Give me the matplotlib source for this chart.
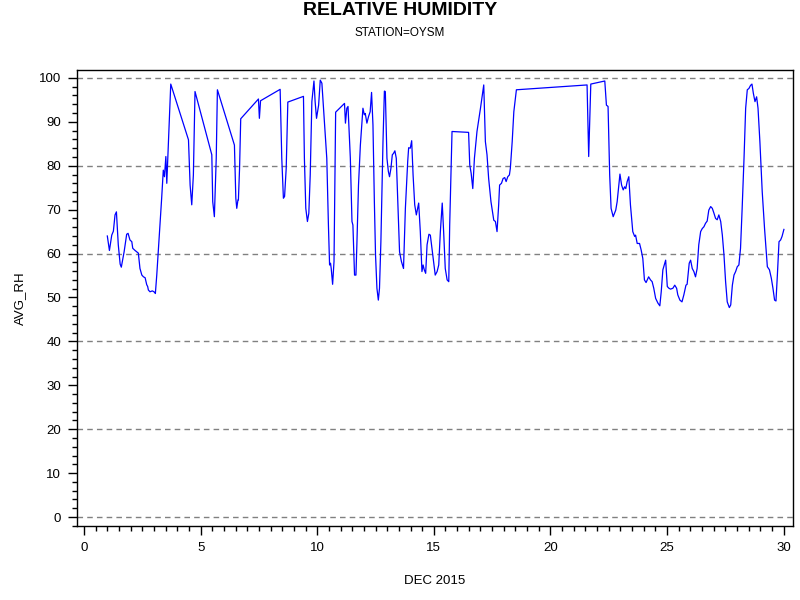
import matplotlib
matplotlib.use("Agg")
import matplotlib.pyplot as plt
from matplotlib.ticker import MultipleLocator

plt.rcParams['font.family'] = ['Liberation Sans', 'DejaVu Sans']

# Day of month (fractional) and average relative humidity.
days = [1.00, 1.09, 1.19, 1.26, 1.33, 1.39, 1.47, 1.55, 1.60, 1.72, 1.83, 1.89,
        1.97, 2.05, 2.09, 2.19, 2.33, 2.40, 2.48, 2.55, 2.62, 2.69, 2.73, 2.76,
        2.83, 2.93, 3.00, 3.06, 3.12, 3.23, 3.33, 3.40, 3.45, 3.51, 3.55, 3.62,
        3.72, 4.48, 4.55, 4.62, 4.69, 4.76, 5.48, 5.52, 5.59, 5.67, 5.72, 6.45,
        6.51, 6.55, 6.60, 6.62, 6.67, 6.72, 7.48, 7.52, 7.57, 8.41, 8.48, 8.55,
        8.60, 8.67, 8.74, 9.41, 9.45, 9.51, 9.58, 9.64, 9.70, 9.77, 9.86, 9.91,
        9.97, 10.06, 10.13, 10.20, 10.27, 10.41, 10.48, 10.53, 10.57, 10.60, 10.66, 10.72,
        10.79, 11.17, 11.21, 11.27, 11.32, 11.42, 11.49, 11.53, 11.60, 11.66, 11.70, 11.77,
        11.85, 11.96, 12.02, 12.06, 12.13, 12.20, 12.27, 12.33, 12.39, 12.45, 12.50, 12.56,
        12.62, 12.67, 12.73, 12.82, 12.88, 12.92, 12.99, 13.05, 13.10, 13.16, 13.22, 13.27,
        13.33, 13.39, 13.45, 13.53, 13.61, 13.70, 13.78, 13.88, 13.92, 13.99, 14.05, 14.11,
        14.18, 14.25, 14.35, 14.42, 14.49, 14.54, 14.59, 14.65, 14.71, 14.79, 14.85, 14.92,
        14.99, 15.06, 15.14, 15.21, 15.28, 15.36, 15.42, 15.49, 15.57, 15.64, 15.68, 15.78,
        16.49, 16.54, 16.60, 16.67, 16.74, 16.85, 17.00, 17.14, 17.21, 17.28, 17.35, 17.45,
        17.57, 17.64, 17.71, 17.78, 17.82, 17.90, 17.97, 18.04, 18.10, 18.17, 18.24, 18.28,
        18.36, 18.43, 18.54, 21.57, 21.64, 21.73, 22.33, 22.40, 22.47, 22.54, 22.60, 22.69,
        22.75, 22.80, 22.86, 22.98, 23.05, 23.12, 23.18, 23.23, 23.29, 23.36, 23.43, 23.53,
        23.61, 23.65, 23.72, 23.82, 23.89, 23.96, 24.03, 24.10, 24.21, 24.29, 24.36, 24.43,
        24.51, 24.61, 24.69, 24.75, 24.82, 24.94, 25.01, 25.08, 25.15, 25.25, 25.33, 25.41,
        25.46, 25.55, 25.64, 25.72, 25.81, 25.86, 25.95, 26.01, 26.08, 26.15, 26.22, 26.29,
        26.36, 26.44, 26.51, 26.58, 26.65, 26.72, 26.79, 26.87, 26.94, 27.01, 27.08, 27.15,
        27.22, 27.30, 27.37, 27.44, 27.51, 27.58, 27.67, 27.73, 27.80, 27.87, 27.94, 28.01,
        28.08, 28.15, 28.22, 28.30, 28.37, 28.44, 28.51, 28.58, 28.64, 28.70, 28.77, 28.84,
        28.90, 28.98, 29.08, 29.18, 29.30, 29.39, 29.47, 29.54, 29.61, 29.67, 29.73, 29.80,
        29.87, 29.93, 30.01]

avg_rh = [64.0, 60.7, 64.2, 65.1, 68.8, 69.5, 62.0, 57.6, 56.9, 60.4, 64.4, 64.6,
          63.1, 62.7, 61.2, 60.7, 60.1, 56.6, 55.1, 54.7, 54.5, 52.9, 52.5, 51.7,
          51.3, 51.5, 51.3, 50.9, 55.1, 64.2, 72.6, 79.0, 77.5, 82.1, 76.0, 85.5,
          98.6, 85.9, 75.6, 71.1, 77.9, 96.9, 82.5, 71.8, 68.4, 81.7, 97.3, 84.7,
          72.6, 70.3, 72.2, 72.2, 79.4, 90.7, 95.2, 90.8, 94.8, 97.4, 81.7, 72.6,
          73.0, 79.4, 94.5, 95.8, 81.7, 70.3, 67.3, 69.2, 77.9, 94.6, 99.3, 94.6,
          90.8, 93.8, 99.5, 98.8, 93.1, 81.7, 66.5, 57.4, 57.8, 56.6, 53.0, 58.2,
          92.2, 94.2, 89.7, 93.1, 93.5, 81.7, 67.3, 66.5, 55.1, 55.1, 62.0, 75.6,
          84.7, 93.1, 91.6, 91.9, 89.7, 91.2, 92.3, 96.7, 89.3, 71.8, 59.7, 52.1,
          49.4, 52.1, 62.7, 85.5, 97.0, 96.9, 81.7, 78.7, 77.5, 79.4, 82.5, 82.8,
          83.4, 81.7, 72.6, 60.4, 58.2, 56.6, 70.3, 81.0, 84.1, 84.0, 85.7, 77.9,
          71.1, 68.8, 71.5, 65.0, 55.9, 57.4, 56.3, 55.5, 62.0, 64.4, 64.2, 61.2,
          58.2, 55.1, 55.9, 57.4, 65.0, 71.5, 65.0, 56.6, 54.0, 53.6, 66.5, 87.8,
          87.6, 80.2, 78.3, 74.8, 81.7, 87.8, 93.1, 98.4, 85.5, 82.5, 77.1, 71.8,
          67.6, 67.3, 65.0, 71.1, 75.6, 76.0, 77.1, 77.3, 76.4, 77.5, 77.9, 79.4,
          85.5, 92.3, 97.3, 98.4, 82.1, 98.6, 99.3, 93.8, 93.5, 77.9, 70.3, 68.4,
          69.2, 69.9, 71.8, 78.1, 75.6, 74.5, 75.2, 74.8, 76.4, 77.5, 71.1, 65.0,
          63.9, 64.2, 62.3, 62.3, 60.8, 58.9, 54.0, 53.4, 54.7, 54.0, 53.6, 52.1,
          49.8, 48.7, 48.1, 51.3, 56.3, 58.5, 52.5, 52.1, 51.9, 52.1, 52.8, 52.1,
          50.6, 49.4, 49.0, 50.6, 52.8, 53.0, 57.8, 58.5, 56.6, 55.9, 54.7, 56.6,
          62.0, 65.0, 65.7, 66.1, 66.9, 67.4, 69.9, 70.7, 70.3, 69.2, 68.0, 67.7,
          68.8, 67.3, 64.2, 59.7, 53.6, 49.0, 47.7, 48.3, 52.8, 55.1, 55.9, 57.0,
          57.4, 61.2, 70.3, 81.7, 93.1, 97.3, 97.6, 98.3, 98.6, 96.5, 94.6, 95.7,
          93.1, 85.5, 74.1, 65.7, 57.0, 56.3, 54.4, 52.1, 49.4, 49.2, 55.1, 62.7,
          63.1, 63.9, 65.5]

grid_levels = [0, 20, 40, 60, 80, 100]


def main():
    fig = plt.figure(figsize=(8, 6), dpi=100)
    ax = fig.add_axes([0.09625, 0.1233, 0.895, 0.76])

    # Dashed reference lines every 20 units.
    for lvl in grid_levels:
        ax.axhline(lvl, color='#808080', linestyle=(0, (4, 3)), linewidth=1.0, zorder=1)

    ax.plot(days, avg_rh, color='#0000ff', linewidth=0.9, zorder=2)

    ax.set_xlim(-0.3, 30.4)
    ax.set_ylim(-2.05, 101.8)
    ax.xaxis.set_major_locator(MultipleLocator(5))
    ax.xaxis.set_minor_locator(MultipleLocator(0.5))
    ax.yaxis.set_major_locator(MultipleLocator(10))
    ax.yaxis.set_minor_locator(MultipleLocator(2))
    ax.tick_params(which='major', direction='out', length=6.5, width=1.0,
                   labelsize=9.5, pad=5)
    ax.tick_params(which='minor', direction='out', length=3.5, width=1.0)
    for s in ax.spines.values():
        s.set_linewidth(1.0)

    ax.set_xlabel("DEC 2015", fontsize=9.5, labelpad=15)
    ax.set_ylabel("AVG_RH", fontsize=9.5, labelpad=9)

    fig.text(0.5, 0.996, "RELATIVE HUMIDITY", ha='center', va='top',
             fontsize=14, fontweight='bold')
    fig.text(0.5, 0.955, "STATION=OYSM", ha='center', va='top', fontsize=8.5)

    fig.savefig("out.png", dpi=100)


if __name__ == "__main__":
    main()
